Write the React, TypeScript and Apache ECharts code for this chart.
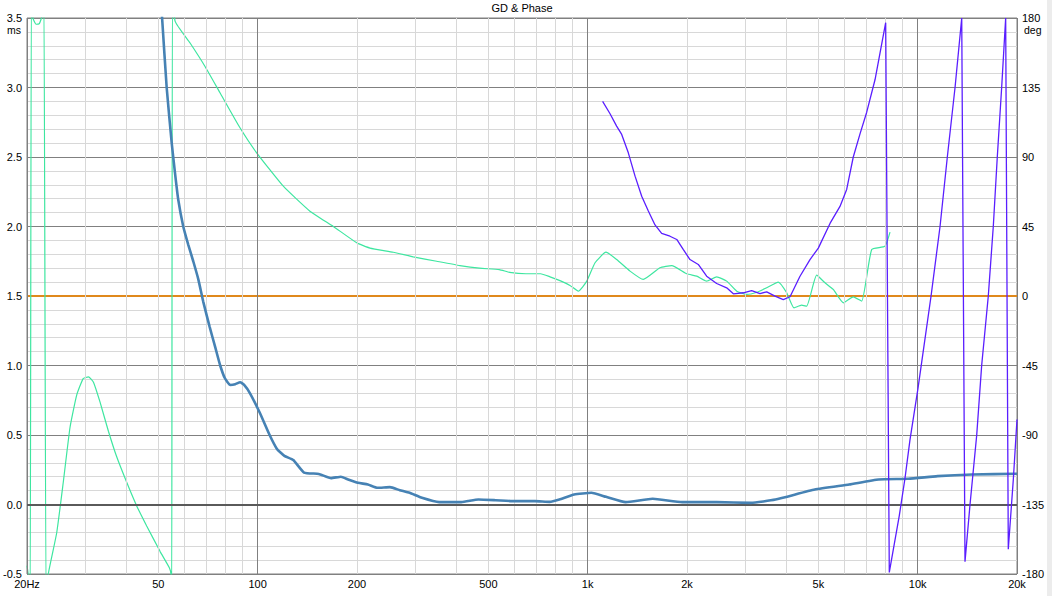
import React, { useEffect, useRef } from "react";
import * as echarts from "echarts";

// Group delay (ms) – blue trace
const gdMain: [number, number][] = [
  [50.8, 3.65], [51.4, 3.48], [53.0, 3.0], [54.9, 2.6], [56.2, 2.38], [57.4, 2.2], [59.5, 2.0],
  [61.6, 1.87], [63.8, 1.75], [66.1, 1.62], [68.4, 1.46], [71.5, 1.28], [74.4, 1.13], [77.0, 1.0],
  [79.5, 0.91], [82.6, 0.86], [85.5, 0.865], [88.5, 0.88], [91.0, 0.86], [94.8, 0.8], [101.5, 0.66],
  [108.7, 0.5], [114.4, 0.4], [120.5, 0.35], [128.2, 0.32], [138.2, 0.23], [153.2, 0.22],
  [166.9, 0.19], [178.8, 0.2], [188, 0.18], [201.4, 0.156], [215.8, 0.144], [231, 0.12],
  [251.8, 0.125], [269.6, 0.103], [288.6, 0.084], [314.6, 0.048], [354.8, 0.017], [414, 0.017],
  [466.6, 0.036], [526, 0.031], [603, 0.024], [692, 0.024], [767, 0.019], [821, 0.036], [910, 0.072],
  [1026, 0.084], [1137, 0.055], [1304, 0.017], [1574, 0.041], [1934, 0.017], [2458, 0.017],
  [3126, 0.012], [3708, 0.036], [4878, 0.108], [6200, 0.144], [7620, 0.18], [9360, 0.185],
  [11490, 0.204], [14610, 0.216], [20000, 0.221],
];

// Group delay (ms) – green trace
const gdSecond: [number, number][] = [
  [20, -0.44], [20.3, -0.55], [20.45, -0.7], [20.62, 3.7], [20.85, 3.5], [21.3, 3.455], [21.8, 3.46],
  [22.25, 3.52], [22.5, 3.7], [22.85, -0.7], [23.2, -0.5], [24.6, -0.205], [25.76, 0.16], [27, 0.554],
  [28.3, 0.788], [29.6, 0.906], [30.7, 0.918], [31.8, 0.88], [33.3, 0.736], [35.3, 0.527],
  [37.4, 0.343], [40.1, 0.16], [43, -0.01], [46.1, -0.154], [50.6, -0.337], [54, -0.455],
  [54.6, -0.5], [54.9, -0.7], [55.2, 3.8], [56.2, 3.477], [62.4, 3.32], [69.2, 3.153], [76.9, 2.962],
  [88.4, 2.71], [99.3, 2.53], [119.6, 2.29], [144, 2.11], [169.6, 2.0], [199.6, 1.883], [219, 1.845],
  [257.6, 1.815], [296, 1.782], [348.6, 1.75], [410, 1.719], [470, 1.7], [540, 1.69], [580, 1.67],
  [650, 1.66], [720, 1.66], [769, 1.638], [831, 1.607], [884, 1.576], [937, 1.535], [994, 1.607],
  [1053, 1.739], [1136, 1.815], [1224, 1.763], [1344, 1.679], [1474, 1.619], [1656, 1.703],
  [1798, 1.719], [1997, 1.66], [2140, 1.643], [2294, 1.607], [2460, 1.638], [2638, 1.607],
  [2830, 1.535], [3034, 1.511], [3254, 1.527], [3488, 1.559], [3782, 1.6], [4010, 1.523],
  [4220, 1.415], [4448, 1.434], [4610, 1.427], [4942, 1.65], [5238, 1.595], [5550, 1.547],
  [5953, 1.451], [6381, 1.494], [6768, 1.463], [7256, 1.835], [7962, 1.858], [8246, 1.959],
];

// Phase (deg) – purple trace
const phase: [number, number][] = [
  [1110, 126], [1169, 118], [1224, 110], [1268, 104.6], [1328, 92.7], [1392, 77.6], [1458, 64.6],
  [1527, 55], [1600, 46], [1676, 40.5], [1776, 38.7], [1862, 36.6], [1950, 30], [2042, 23.6],
  [2164, 20.4], [2294, 12.8], [2460, 8.1], [2638, 5.3], [2764, 1.4], [2964, 2.1], [3140, 3.5],
  [3328, 1.6], [3488, 2.7], [3696, -0.1], [3916, -2.3], [4104, -0.5], [4400, 12.8], [4718, 23.6],
  [5000, 31], [5425, 47], [5816, 58], [6094, 69], [6381, 90], [6688, 105], [7008, 119], [7426, 140],
  [8000, 177], [8204, -179], [8800, -142], [9154, -118], [9480, -93], [10020, -60], [10980, 0],
  [11690, 45], [12300, 90], [12980, 135], [13600, 180], [13914, -172], [14410, -135], [15100, -90],
  [15630, -45], [16370, 0], [16950, 45], [17430, 90], [17970, 135], [18480, 180], [18820, -164],
  [19490, -119], [20000, -80],
];

// Phase reference line (deg) – orange
const phaseRef: [number, number][] = [[20, 0], [20000, 0]];

const xTickLabels: [number, string][] = [
  [20, "20Hz"], [50, "50"], [100, "100"], [200, "200"], [500, "500"],
  [1000, "1k"], [2000, "2k"], [5000, "5k"], [10000, "10k"], [20000, "20k"],
];
const majorFreqs = [100, 1000, 10000];
const minorFreqs = [
  30, 40, 50, 60, 70, 80, 90,
  200, 300, 400, 500, 600, 700, 800, 900,
  2000, 3000, 4000, 5000, 6000, 7000, 8000, 9000,
];

const FONT = "'Liberation Sans', Arial, sans-serif";

export default function App() {
  const ref = useRef<HTMLDivElement>(null);
  useEffect(() => {
    if (!ref.current) return;
    const chart = echarts.init(ref.current, null, { renderer: "svg" });
    const labelMap = new Map(xTickLabels.map(([f, t]) => [f, t]));
    const allFreqs = [20, ...minorFreqs, ...majorFreqs, 20000];
    const vLines = allFreqs.map((f) => {
      const isMajor = majorFreqs.includes(f);
      const isEdge = f === 20 || f === 20000;
      const txt = labelMap.get(f);
      return {
        xAxis: f,
        lineStyle: {
          color: isMajor || isEdge ? "#808080" : "#d8d8d8",
          width: 1,
          type: "solid",
        },
        label: {
          show: !!txt,
          formatter: txt || "",
          position: "start",
          distance: 5,
          color: "#000",
          fontSize: 11,
          lineHeight: 9,
          fontFamily: FONT,
        },
      };
    });

    chart.setOption({
      animation: false,
      backgroundColor: "#ffffff",
      grid: {
        left: 27,
        right: 35,
        top: 18,
        bottom: 22,
        show: true,
        borderColor: "#808080",
        borderWidth: 1,
        backgroundColor: "#ffffff",
        outerBoundsMode: "none",
      },
      xAxis: {
        type: "log",
        logBase: 10,
        min: 20,
        max: 20000,
        show: false,
      },
      yAxis: [
        {
          type: "value",
          min: -0.5,
          max: 3.5,
          interval: 0.5,
          axisLine: { show: false },
          axisTick: { show: false },
          axisLabel: {
            formatter: (v: number) => v.toFixed(1),
            color: "#000",
            fontSize: 11,
            lineHeight: 9,
            padding: [0, 0, 2, 0],
            fontFamily: FONT,
            margin: 5,
            showMinLabel: true,
            showMaxLabel: true,
          },
          splitLine: { show: true, lineStyle: { color: "#808080", width: 1 } },
          minorTick: { show: false, splitNumber: 5 },
          minorSplitLine: { show: true, lineStyle: { color: "#d8d8d8", width: 1 } },
        },
        {
          type: "value",
          min: -180,
          max: 180,
          interval: 45,
          position: "right",
          axisLine: { show: false },
          axisTick: { show: false },
          axisLabel: {
            color: "#000",
            fontSize: 11,
            lineHeight: 9,
            padding: [0, 0, 2, 0],
            fontFamily: FONT,
            margin: 5,
            showMinLabel: true,
            showMaxLabel: true,
          },
          splitLine: { show: false },
          minorSplitLine: { show: false },
        },
      ],
      graphic: [
        {
          type: "text",
          x: 522,
          y: 8,
          style: {
            text: "GD & Phase", fill: "#000", font: `11px ${FONT}`,
            align: "center", verticalAlign: "middle",
          },
        },
        {
          type: "text",
          x: 21,
          y: 29.5,
          style: {
            text: "ms", fill: "#000", font: `10.5px ${FONT}`,
            align: "right", verticalAlign: "middle",
          },
        },
        {
          type: "text",
          x: 1024,
          y: 29.5,
          style: {
            text: "deg", fill: "#000", font: `10.5px ${FONT}`,
            align: "left", verticalAlign: "middle",
          },
        },
        {
          type: "rect",
          shape: { x: 1047, y: 0, width: 5, height: 596 },
          style: { fill: "#ececec" },
        },
      ],
      series: [
        {
          name: "grid",
          type: "line",
          data: [],
          z: 1,
          yAxisIndex: 0,
          silent: true,
          markLine: {
            silent: true,
            symbol: "none",
            animation: false,
            emphasis: { disabled: true },
            data: [
              ...vLines,
              {
                yAxis: 0,
                lineStyle: { color: "#5a5a5a", width: 2, type: "solid" },
                label: { show: false },
              },
            ],
          },
        },
        {
          name: "Phase ref",
          type: "line",
          yAxisIndex: 1,
          data: phaseRef,
          showSymbol: false,
          symbol: "none",
          lineStyle: { color: "#e0891c", width: 2 },
          z: 3,
          silent: true,
        },
        {
          name: "GD 2",
          type: "line",
          yAxisIndex: 0,
          data: gdSecond,
          showSymbol: false,
          symbol: "none",
          smooth: 0.15,
          lineStyle: { color: "#3ee6a0", width: 1.2 },
          z: 4,
          silent: true,
        },
        {
          name: "GD",
          type: "line",
          yAxisIndex: 0,
          data: gdMain,
          showSymbol: false,
          symbol: "none",
          smooth: 0.15,
          lineStyle: { color: "#4682b4", width: 2.6 },
          z: 5,
          silent: true,
        },
        {
          name: "Phase",
          type: "line",
          yAxisIndex: 1,
          data: phase,
          showSymbol: false,
          symbol: "none",
          lineStyle: { color: "#5a1eff", width: 1.3 },
          z: 6,
          silent: true,
        },
      ],
    });
    return () => chart.dispose();
  }, []);
  return (
    <div
      ref={ref}
      style={{ position: "absolute", left: 0, top: 0, width: 1052, height: 596 }}
    />
  );
}
